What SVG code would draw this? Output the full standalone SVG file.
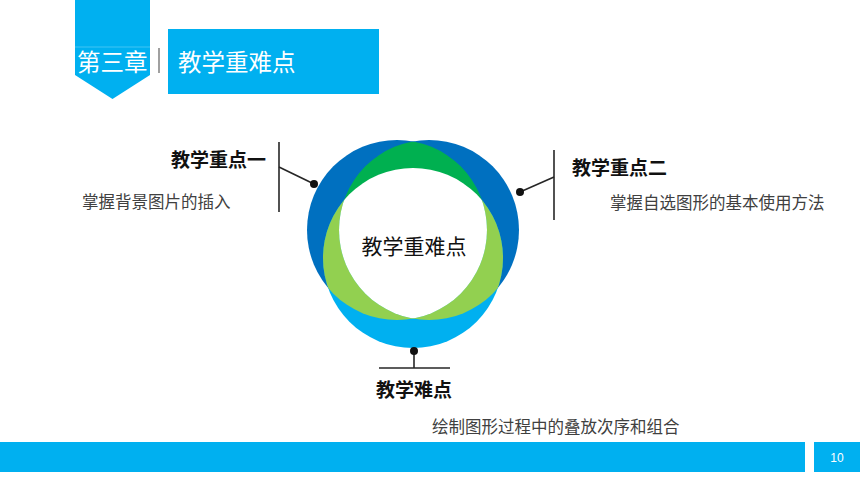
<svg xmlns="http://www.w3.org/2000/svg" width="860" height="484" viewBox="0 0 860 484">
  <style>
    .cjk { font-family: "Noto Sans CJK SC", "Noto Sans", sans-serif; }
    .hdr { fill: #FFFFFF; font-size: 23.5px; }
    .lbl { fill: #111111; font-size: 19px; font-weight: bold; }
    .desc { fill: #404040; font-size: 16.5px; }
    .ln { stroke: #262626; stroke-width: 1.6; fill: none; }
    .dot { fill: #111111; }
    .band { fill: #00B0F0; }
  </style>
  <defs>
    <clipPath id="cL"><circle cx="397" cy="230" r="90"/></clipPath>
    <clipPath id="cR"><circle cx="429" cy="230" r="90"/></clipPath>
  </defs>
  <rect width="860" height="484" fill="#FFFFFF"/>

  <g id="header">
    <polygon class="band" points="75,0 150,0 150,75 112.5,99 75,75"/>
    <line x1="75" y1="47" x2="150" y2="47" stroke="#FFFFFF" stroke-opacity="0.25" stroke-width="1"/>
    <text class="cjk hdr" x="77" y="71">第三章</text>
    <line x1="159" y1="48" x2="159" y2="73" stroke="#808080" stroke-width="1.5"/>
    <rect class="band" x="168" y="29" width="211" height="65"/>
    <text class="cjk hdr" x="178" y="71">教学重难点</text>
  </g>

  <g id="rings">
    <circle cx="397" cy="230" r="90" fill="#0070C0"/>
    <circle cx="429" cy="230" r="90" fill="#0070C0"/>
    <circle cx="413" cy="258" r="90" fill="#00B0F0"/>
    <circle cx="413" cy="258" r="90" fill="#92D050" clip-path="url(#cL)"/>
    <circle cx="413" cy="258" r="90" fill="#92D050" clip-path="url(#cR)"/>
    <circle cx="397" cy="230" r="90" fill="#00B050" clip-path="url(#cR)"/>
    <g clip-path="url(#cR)">
      <circle cx="413" cy="258" r="90" fill="#FFFFFF" clip-path="url(#cL)"/>
    </g>
    <text class="cjk" x="414" y="254" text-anchor="middle" font-size="21px" fill="#111111">教学重难点</text>
  </g>

  <g id="connectors">
    <line class="ln" x1="279" y1="142" x2="279" y2="212"/>
    <line class="ln" x1="279" y1="167" x2="314" y2="184"/>
    <circle class="dot" cx="314" cy="184" r="4"/>
    <line class="ln" x1="554" y1="150" x2="554" y2="220"/>
    <line class="ln" x1="554" y1="177" x2="520" y2="192"/>
    <circle class="dot" cx="520" cy="192" r="4"/>
    <line class="ln" x1="414" y1="351" x2="414" y2="368"/>
    <line class="ln" x1="379" y1="368" x2="450" y2="368"/>
    <circle class="dot" cx="414" cy="351" r="4"/>
  </g>

  <g id="point1">
    <text class="cjk lbl" x="266" y="167" text-anchor="end">教学重点一</text>
    <text class="cjk desc" x="82" y="208">掌握背景图片的插入</text>
  </g>

  <g id="point2">
    <text class="cjk lbl" x="572" y="175">教学重点二</text>
    <text class="cjk desc" x="610" y="209">掌握自选图形的基本使用方法</text>
  </g>

  <g id="difficulty">
    <text class="cjk lbl" x="414" y="397" text-anchor="middle">教学难点</text>
    <text class="cjk desc" x="432" y="433">绘制图形过程中的叠放次序和组合</text>
  </g>

  <g id="footer">
    <rect class="band" x="0" y="442" width="805" height="30"/>
    <rect class="band" x="814" y="442" width="46" height="30"/>
    <text x="837" y="462" text-anchor="middle" font-family="Liberation Sans Narrow, Liberation Sans, sans-serif" font-size="12px" fill="#FFFFFF">10</text>
  </g>
</svg>
